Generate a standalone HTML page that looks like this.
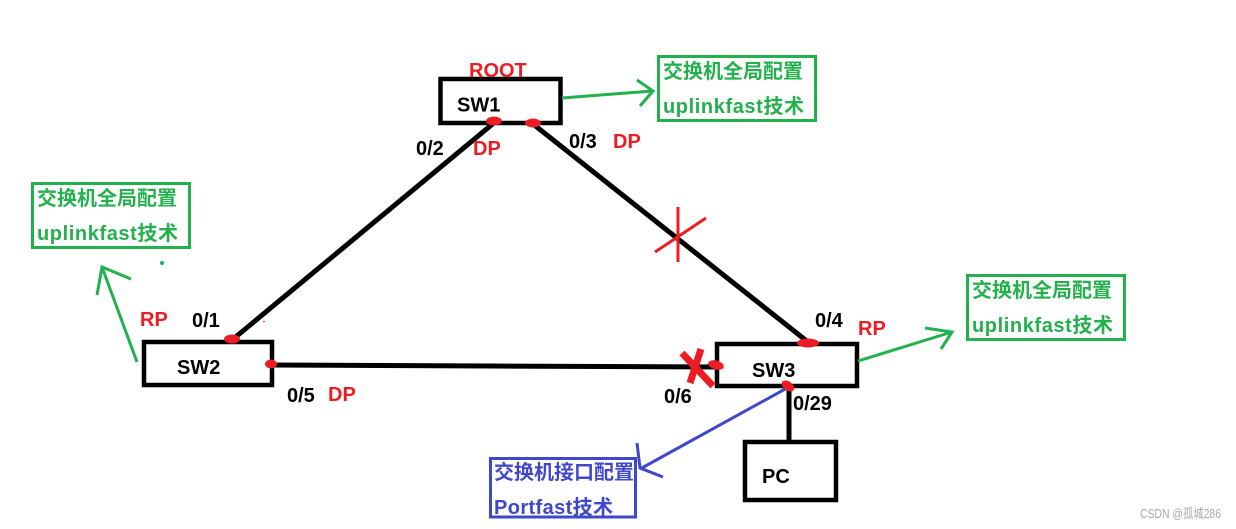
<!DOCTYPE html>
<html>
<head>
<meta charset="utf-8">
<style>
html,body{margin:0;padding:0;background:#fff;width:1236px;height:529px;overflow:hidden}
svg{display:block}
text{font-family:"Liberation Sans","Noto Sans CJK SC",sans-serif;font-weight:bold;font-size:20px}
.k{fill:#000}.r{fill:#ed1c24}.g{fill:#22b14c}.b{fill:#3f48cc}
</style>
</head>
<body>
<svg width="1236" height="529" viewBox="0 0 1236 529" xmlns="http://www.w3.org/2000/svg">
<rect width="1236" height="529" fill="#fff"/>
<g fill="none" stroke="#000" stroke-width="4.5">
<rect x="440.5" y="79" width="120" height="44"/>
<rect x="144" y="342" width="128" height="43"/>
<rect x="717" y="344" width="140" height="42"/>
<rect x="745" y="442" width="91" height="58"/>
</g>
<g fill="none" stroke="#000" stroke-width="5">
<line x1="495" y1="122" x2="232" y2="340"/>
<line x1="533" y1="124" x2="808" y2="342"/>
<polyline points="272,365 490,366 716,367"/>
<line x1="789" y1="388" x2="789" y2="442"/>
</g>
<g fill="none" stroke="#22b14c" stroke-width="3">
<rect x="658.5" y="56.5" width="157" height="64"/>
<rect x="32.5" y="183.5" width="157" height="64"/>
<rect x="967.5" y="275.5" width="157" height="64"/>
<polyline points="562,98 653,91"/>
<polyline points="637,80 653,91 640,106"/>
<polyline points="137,362 102,267"/>
<polyline points="97,295 102,267 131,279"/>
<polyline points="858,361 952,332"/>
<polyline points="925,328 952,332 941,349"/>
</g>
<circle cx="162" cy="263" r="2" fill="#22b14c"/>
<g fill="none" stroke="#3f48cc" stroke-width="3">
<rect x="490.5" y="458.5" width="145" height="58.5"/>
<polyline points="787,388 640,469"/>
<polyline points="637,443 640,468 663,477"/>
</g>
<g fill="#ed1c24">
<ellipse cx="494" cy="121" rx="8" ry="4.5"/>
<ellipse cx="533" cy="123" rx="8" ry="4.5"/>
<ellipse cx="232" cy="339" rx="8" ry="4.5"/>
<ellipse cx="271" cy="364" rx="6" ry="4.5"/>
<ellipse cx="808" cy="343" rx="11" ry="4.5"/>
<ellipse cx="716" cy="365" rx="8" ry="4.5" transform="rotate(15 716 365)"/>
<ellipse cx="788" cy="386" rx="7" ry="4.5" transform="rotate(35 788 386)"/>
<rect x="263" y="321" width="2" height="1"/>
</g>
<g stroke="#ed1c24" fill="none">
<line x1="678" y1="207" x2="678" y2="262" stroke-width="3"/>
<line x1="655" y1="252" x2="706" y2="218" stroke-width="3"/>
<line x1="682" y1="353" x2="713" y2="386" stroke-width="7"/>
<line x1="701" y1="349" x2="690" y2="383" stroke-width="7"/>
</g>
<text x="457" y="111.5" class="k">SW1</text>
<text x="177" y="374" class="k">SW2</text>
<text x="752" y="377" class="k">SW3</text>
<text x="762" y="483" class="k">PC</text>
<text x="416" y="155" class="k">0/2</text>
<text x="569" y="148" class="k">0/3</text>
<text x="192" y="327" class="k">0/1</text>
<text x="287" y="402" class="k">0/5</text>
<text x="815" y="327" class="k">0/4</text>
<text x="664" y="403" class="k">0/6</text>
<text x="793" y="410" class="k">0/29</text>
<text x="469" y="77" class="r">ROOT</text>
<text x="473" y="155" class="r">DP</text>
<text x="613" y="148" class="r">DP</text>
<text x="140" y="326" class="r">RP</text>
<text x="328" y="401" class="r">DP</text>
<text x="858" y="335" class="r">RP</text>
<text x="663" y="78" class="g">交换机全局配置</text>
<text x="663" y="113" class="g" textLength="141">uplinkfast技术</text>
<text x="37" y="205" class="g">交换机全局配置</text>
<text x="37" y="240" class="g" textLength="141">uplinkfast技术</text>
<text x="972" y="297" class="g">交换机全局配置</text>
<text x="972" y="332" class="g" textLength="141">uplinkfast技术</text>
<text x="494" y="479" class="b">交换机接口配置</text>
<text x="494" y="514" class="b" textLength="119">Portfast技术</text>
<text x="1140" y="518" textLength="81" lengthAdjust="spacingAndGlyphs" style="font-size:13px;font-weight:normal;fill:#a8a8a8">CSDN @孤城286</text>
</svg>
</body>
</html>
